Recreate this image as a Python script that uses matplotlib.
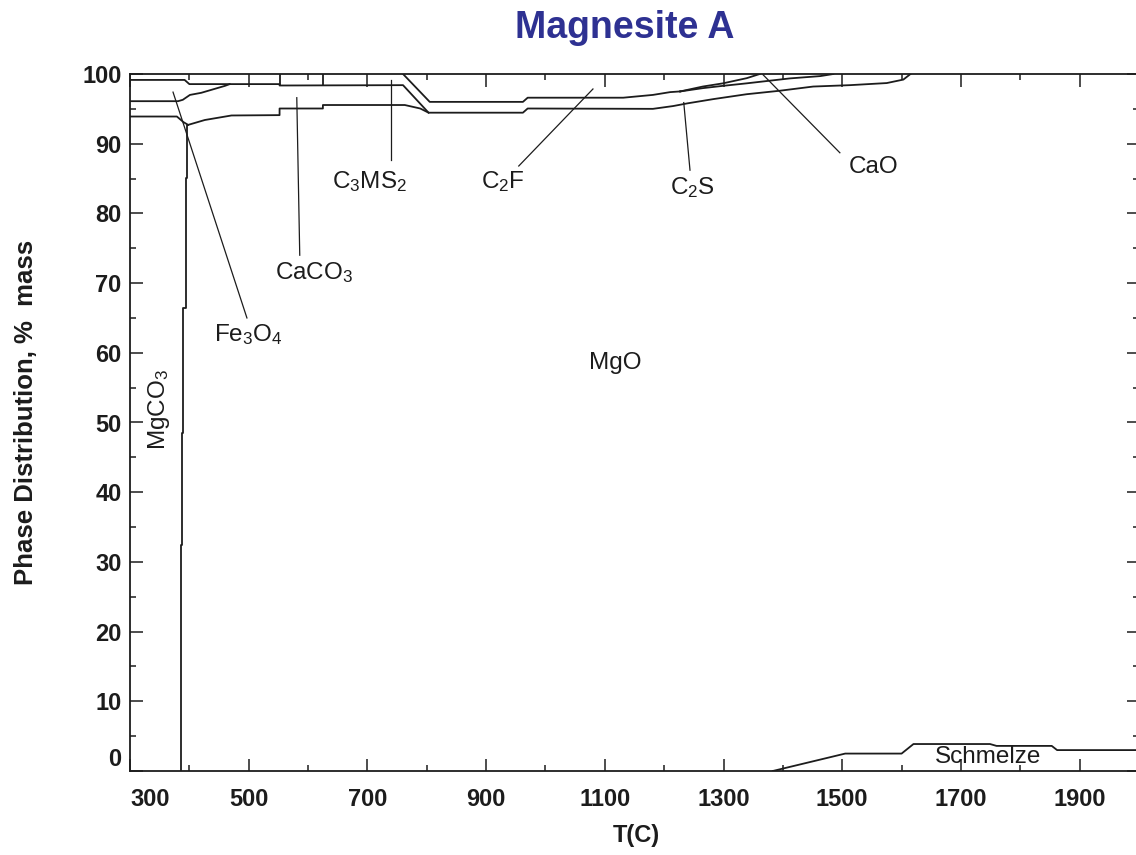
import matplotlib
matplotlib.use("Agg")
import matplotlib.pyplot as plt

plt.rcParams["font.family"] = ["Liberation Sans", "DejaVu Sans"]
plt.rcParams["mathtext.fontset"] = "custom"
plt.rcParams["mathtext.rm"] = "Liberation Sans"
plt.rcParams["mathtext.default"] = "regular"

INK = "#1c1c1c"
TITLE_BLUE = "#2e3192"

# ---- phase boundaries (cumulative % mass) ----
# MgCO3 / MgO decomposition front (near-vertical, drawn as small steps)
mgco3_T = [385.2, 388.0, 389.6, 393.8, 395.5, 398.0]
mgco3_Y = [0.0, 32.4, 48.5, 66.4, 85.1, 92.7]

# upper boundary below the thin top band
line_a_T = [300, 392, 400, 552, 552, 760, 803]
line_a_Y = [99.15, 99.15, 98.55, 98.55, 98.35, 98.4, 94.45]

# Fe3O4 lower boundary
line_b_T = [300, 381, 389, 401, 420, 460, 468]
line_b_Y = [96.1, 96.1, 96.3, 97.0, 97.3, 98.3, 98.55]

# MgO upper boundary
line_c_T = [300, 379, 390, 398, 426, 471, 552, 552, 625, 625, 763, 789, 803,
            962, 970, 1181, 1215, 1240, 1283, 1339, 1395, 1451, 1513, 1575,
            1603, 1615]
line_c_Y = [93.9, 93.9, 93.1, 92.7, 93.4, 94.05, 94.1, 95.05, 95.05, 95.55,
            95.55, 95.05, 94.45, 94.45, 95.05, 95.0, 95.4, 95.8, 96.4, 97.1,
            97.6, 98.2, 98.4, 98.7, 99.2, 100.0]

# C2F lower boundary, splitting into two branches near 1227 C
line_e_T = [760, 805, 962, 970, 1131, 1181, 1210, 1227]
line_e_Y = [100.0, 96.0, 96.0, 96.6, 96.6, 97.0, 97.4, 97.5]
line_e1_T = [1227, 1265, 1299, 1339, 1361]
line_e1_Y = [97.5, 98.2, 98.66, 99.4, 100.0]
line_e2_T = [1227, 1265, 1299, 1339, 1378, 1412, 1463, 1485]
line_e2_Y = [97.5, 97.97, 98.3, 98.66, 99.04, 99.37, 99.7, 100.0]

# vertical phase dividers in the top band
divider_T = [552, 625]
divider_Y = [98.35, 98.35]

# melt (Schmelze)
melt_T = [1383, 1505, 1600, 1620, 1749, 1760, 1853, 1862, 2000]
melt_Y = [0.0, 2.5, 2.5, 3.87, 3.87, 3.6, 3.6, 3.0, 3.0]

x_ticks = list(range(300, 2000, 200))
y_ticks = list(range(0, 101, 10))

# labels: text, centre (T, %), leader start, leader end
labels = [
    ("MgO", (1117, 58.5), None, None),
    ("Fe$_3$O$_4$", (500, 62.6), (497, 65.0), (372.5, 97.4)),
    ("CaCO$_3$", (610, 71.5), (586, 74.0), (581, 96.6)),
    ("C$_3$MS$_2$", (703, 84.6), (740, 87.7), (740, 99.1)),
    ("C$_2$F", (928, 84.6), (955, 86.8), (1080, 97.85)),
    ("C$_2$S", (1247, 83.7), (1243.5, 86.2), (1233, 95.9)),
    ("CaO", (1552, 86.7), (1496, 88.7), (1366.5, 99.9)),
    ("Schmelze", (1746, 2.0), None, None),
]

fig = plt.figure(figsize=(11.36, 8.55), dpi=100, facecolor="white")
ax = fig.add_axes([130 / 1136, 84 / 855, 1009 / 1136, 697 / 855])

lw = 1.3
ax.plot(mgco3_T, mgco3_Y, color=INK, lw=lw, drawstyle="steps-pre")
for T, Y in [(line_a_T, line_a_Y), (line_b_T, line_b_Y), (line_c_T, line_c_Y),
             (line_e_T, line_e_Y), (line_e1_T, line_e1_Y),
             (line_e2_T, line_e2_Y), (melt_T, melt_Y)]:
    ax.plot(T, Y, color=INK, lw=lw)
ax.vlines(divider_T, divider_Y, 100, color=INK, lw=lw)

for text, pos, p0, p1 in labels:
    ax.text(pos[0], pos[1], text, fontsize=17.5, color=INK,
            ha="center", va="center")
    if p0 is not None:
        ax.plot([p0[0], p1[0]], [p0[1], p1[1]], color=INK, lw=0.9)
ax.text(349, 51.9, "MgCO$_3$", fontsize=17.5, color=INK, rotation=90,
        ha="center", va="center")

ax.set_xlim(300, 2000)
ax.set_ylim(0, 100)
ax.set_xticks(x_ticks)
ax.set_xticks(range(400, 2001, 200), minor=True)
ax.set_yticks(y_ticks)
ax.set_yticks(range(5, 100, 10), minor=True)
ax.tick_params(which="both", direction="in", top=True, right=True,
               width=1.1, colors=INK)
ax.tick_params(which="major", length=9)
ax.tick_params(which="minor", length=4)
ax.tick_params(axis="x", pad=12, labelsize=17)
ax.tick_params(axis="y", pad=6, labelsize=17)
for lab in ax.get_xticklabels() + ax.get_yticklabels():
    lab.set_fontweight("bold")
ax.get_xticklabels()[0].set_ha("left")
ax.get_yticklabels()[0].set_va("bottom")
for s in ax.spines.values():
    s.set_linewidth(1.3)
    s.set_color(INK)

ax.set_xlabel("T(C)", fontsize=17, fontweight="bold", color=INK)
ax.set_ylabel("Phase Distribution, %  mass", fontsize=18.5, fontweight="bold",
              color=INK)
ax.xaxis.set_label_coords(0.5015, -0.076)
ax.yaxis.set_label_coords(-0.091, 0.515)

fig.text(625 / 1136, 1 - 28 / 855, "Magnesite A", fontsize=27,
         fontweight="bold", color=TITLE_BLUE, ha="center", va="center")

fig.savefig("out.png", dpi=100, facecolor="white")
